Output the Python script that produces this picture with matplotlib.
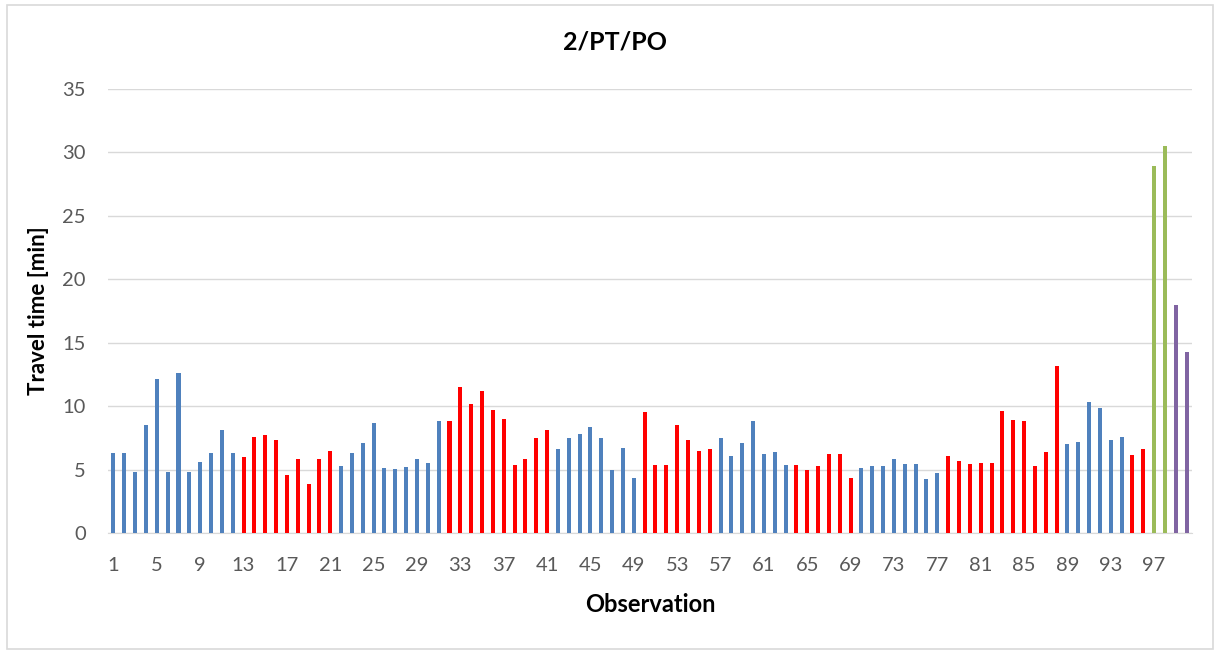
import matplotlib.pyplot as plt
from matplotlib.patches import Rectangle

plt.rcParams['font.family'] = ['Lato', 'DejaVu Sans']

# travel time per observation [min]
travel_time = [
    6.3, 6.3, 4.8, 8.5, 12.1, 4.8, 12.6, 4.8, 5.6, 6.3,
    8.1, 6.3, 6.0, 7.6, 7.7, 7.3, 4.6, 5.8, 3.85, 5.85,
    6.5, 5.25, 6.3, 7.1, 8.7, 5.1, 5.05, 5.2, 5.8, 5.5,
    8.8, 8.8, 11.5, 10.2, 11.2, 9.7, 9.0, 5.35, 5.85, 7.5,
    8.1, 6.6, 7.5, 7.8, 8.35, 7.5, 5.0, 6.7, 4.35, 9.5,
    5.35, 5.35, 8.5, 7.3, 6.5, 6.6, 7.5, 6.1, 7.1, 8.8,
    6.25, 6.35, 5.35, 5.35, 5.0, 5.25, 6.2, 6.2, 4.35, 5.1,
    5.3, 5.3, 5.85, 5.45, 5.45, 4.25, 4.75, 6.05, 5.65, 5.4,
    5.5, 5.5, 9.6, 8.9, 8.8, 5.3, 6.4, 13.2, 7.0, 7.15,
    10.3, 9.85, 7.3, 7.6, 6.15, 6.65, 28.95, 30.5, 17.95, 14.25,
]

# consecutive runs of observations sharing one colour
run_colors = ['#4F81BD', '#FF0000', '#4F81BD', '#FF0000', '#4F81BD', '#FF0000',
              '#4F81BD', '#FF0000', '#4F81BD', '#FF0000', '#4F81BD', '#FF0000',
              '#9BBB59', '#8064A2']
run_lengths = [12, 9, 10, 10, 8, 7, 7, 6, 8, 11, 6, 2, 2, 2]

bar_colors = []
for c, n in zip(run_colors, run_lengths):
    bar_colors += [c] * n

observations = list(range(1, len(travel_time) + 1))
tick_labels = list(range(1, 101, 4))

fig = plt.figure(figsize=(12.18, 6.51), dpi=100)
ax = fig.add_axes([0.0887, 0.1813, 0.890, 0.682])

ax.bar(observations, travel_time, width=0.37, color=bar_colors, zorder=3)

ax.set_xlim(0.5, 100.5)
ax.set_ylim(0, 35)
ax.set_yticks(range(0, 36, 5))
ax.set_xticks(tick_labels)
ax.grid(axis='y', color='#D9D9D9', linewidth=1, zorder=0)
for s in ['top', 'right', 'left']:
    ax.spines[s].set_visible(False)
ax.spines['bottom'].set_color('#D9D9D9')
ax.spines['bottom'].set_zorder(1)
ax.tick_params(axis='both', length=0, labelsize=14.5, labelcolor='#595959')
ax.tick_params(axis='x', pad=17)
ax.tick_params(axis='y', pad=16)

fig.text(0.505, 0.9355, '2/PT/PO', fontsize=18, fontweight='bold',
         ha='center', va='center')
ax.set_xlabel('Observation', fontsize=17, fontweight='bold', va='center')
ax.xaxis.set_label_coords(0.5, -0.162)
ax.set_ylabel('Travel time [min]', fontsize=16, fontweight='bold', va='center')
ax.yaxis.set_label_coords(-0.0646, 0.5)

# chart-area frame
fig.patches.append(Rectangle((0.006, 0.003), 0.99, 0.99, transform=fig.transFigure,
                             fill=False, edgecolor='#D9D9D9', linewidth=1.2))

fig.savefig('out.png', dpi=100)
